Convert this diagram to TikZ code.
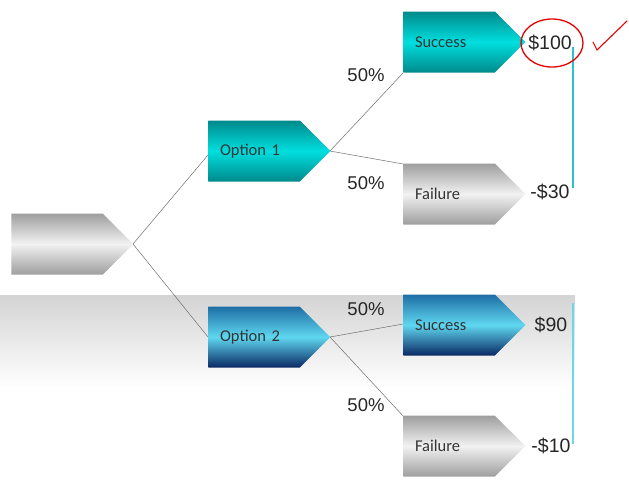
\documentclass[tikz,border=0pt]{standalone}
\usepackage{fontspec}
\setmainfont{Liberation Sans}
\newfontfamily\boxfont{Carlito}
\usepackage{tikz}
\usetikzlibrary{shapes.symbols,calc}
\definecolor{TealDark}{RGB}{0,138,140}
\definecolor{TealLight}{RGB}{0,222,222}
\definecolor{BlueTop}{RGB}{30,110,165}
\definecolor{BlueMid}{RGB}{95,215,240}
\definecolor{BlueBot}{RGB}{10,40,100}
\definecolor{GreyDark}{RGB}{158,158,158}
\definecolor{GreyLight}{RGB}{242,242,242}
\definecolor{EndLine}{RGB}{40,195,205}
\definecolor{EndLineB}{RGB}{110,215,230}
\definecolor{BranchLine}{RGB}{110,110,110}

\begin{document}
\begin{tikzpicture}[x=1pt, y=-1pt,
        choice/.style={signal, signal to=east, signal pointer angle=90, minimum width=122pt, minimum height=61pt, text width=68pt, align=left, inner xsep=0pt, font=\boxfont\fontsize{16.5}{18}\selectfont, text=black!80},
        tealbox/.style={choice, top color=TealDark, bottom color=TealDark, middle color=TealLight},
        bluebox/.style={choice, top color=BlueTop, bottom color=BlueBot, middle color=BlueMid},
        greybox/.style={choice, top color=GreyDark, bottom color=GreyDark, middle color=GreyLight},
        prob/.style={font=\fontsize{18.5}{20}\selectfont, text=black!85},
        payoff/.style={font=\fontsize{19.5}{22}\selectfont, text=black!85},
        branch/.style={draw=BranchLine, line width=0.5pt}
    ]
        \useasboundingbox (0,0) rectangle (629,482);

        % shaded band
        \shade [top color=black!17, bottom color=white] (0,295) rectangle (575,388);

        % branches (drawn under the boxes)
        \coordinate (rootTip) at (133,244);
        \coordinate (opt1Tip) at (330,151);
        \coordinate (opt2Tip) at (330,337);
        \draw [branch] (rootTip) -- (208,155);
        \draw [branch] (rootTip) -- (208,337);
        \draw [branch] (opt1Tip) -- (403,73);
        \draw [branch] (opt1Tip) -- (403,164);
        \draw [branch] (opt2Tip) -- (403,324);
        \draw [branch] (opt2Tip) -- (404,417);

        % decision boxes
        \node [greybox] (root) at (57,244) {};
        \node [tealbox] (opt1) at (254,151) {Option 1};
        \node [bluebox] (opt2) at (254,337) {Option 2};
        \node [tealbox] (succ1) at (449,42) {Success};
        \node [greybox] (fail1) at (449,194) {Failure};
        \node [bluebox] (succ2) at (449,325) {Success};
        \node [greybox] (fail2) at (449,446) {Failure};

        % probabilities
        \node [prob] (p1) at (366,75) {50\%};
        \node [prob] (p2) at (366,183) {50\%};
        \node [prob] (p3) at (366,309) {50\%};
        \node [prob] (p4) at (366,405) {50\%};

        % payoffs
        \node [payoff] (v1) at (550,43) {\$100};
        \node [payoff] (v2) at (550,192) {-\$30};
        \node [payoff] (v3) at (551,325) {\$90};
        \node [payoff] (v4) at (551,446) {-\$10};

        \draw [EndLine, line width=2.5pt] (573,47) -- (573,188);
        \draw [EndLineB, line width=2.5pt] (573,303) -- (573,444);

        % hand marks
        \draw [red!90!black, line width=1.3pt] (552,43) ellipse (31 and 24);
        \draw [red!90!black, line width=1.1pt, line cap=round, line join=round] (593,42) -- (597,50) -- (627,21);
    \end{tikzpicture}
\end{document}
